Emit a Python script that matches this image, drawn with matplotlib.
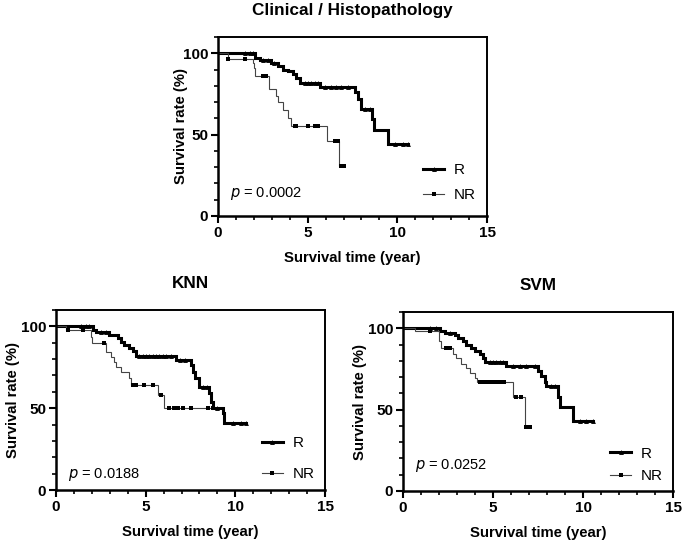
import numpy as np
import matplotlib
matplotlib.use('Agg')
import matplotlib.pyplot as plt
from matplotlib.ticker import MultipleLocator

plt.rcParams['font.family'] = ['Liberation Sans', 'DejaVu Sans']

# ----------------------------------------------------------------------------------- #
#             Kaplan-Meier curves (time in years, %)              #
# ----------------------------------------------------------------------------------- #

# Clinical / Histopathology
clin_R_t = [0, 2.04, 2.32, 2.97, 3.35, 3.62, 3.90, 4.18, 4.37, 4.55, 5.67, 7.62, 7.80, 8.00, 8.59, 8.70, 9.48]
clin_R_s = [100, 97.2, 96, 94, 92, 90, 89, 87, 85, 81.5, 79.5, 76, 72, 66, 59.6, 52.6, 44.3]
clin_R_cens = [1.49, 1.77, 1.95, 2.5, 2.8, 3.1, 4.83, 5.02, 5.2, 5.39, 5.58, 5.95, 6.32, 6.6, 6.88, 7.25,
               8.18, 8.46, 9.85, 10.3, 10.6]
clin_NR_t = [0, 0.57, 1.95, 2.0, 2.05, 2.83, 3.25, 3.35, 3.62, 3.90, 4.09, 6.10, 6.77]
clin_NR_s = [100, 96.5, 94, 91, 86, 78, 74, 70, 65, 60.5, 55, 46, 31]
clin_NR_cens = [0.57, 1.49, 2.5, 2.7, 4.28, 4.37, 5.02, 5.39, 5.58, 6.5, 6.7, 6.85, 7.0]

# KNN
knn_R_t = [0, 2.04, 2.23, 2.97, 3.44, 3.62, 3.81, 4.09, 4.31, 4.46, 6.69, 7.53, 7.66, 7.77, 7.99, 8.55, 8.64,
           8.74, 9.29, 9.39]
knn_R_s = [100, 97.8, 96.7, 94.7, 92.7, 90.6, 88.6, 86.6, 85, 82.1, 79.5, 76.4, 72.4, 68.3, 63.2, 59.1, 54,
           50, 47, 41]
knn_R_cens = [1.39, 1.67, 1.86, 2.5, 2.79, 4.65, 4.83, 5.02, 5.2, 5.39, 5.58, 5.76, 5.95, 6.13, 6.4, 6.9, 7.2,
              8.2, 8.4, 9.0, 9.85, 10.3, 10.6]
knn_NR_t = [0, 0.55, 1.95, 2.0, 2.79, 3.07, 3.25, 3.35, 3.62, 4.09, 4.18, 5.67, 6.04]
knn_NR_s = [100, 98, 93.5, 89.6, 84.5, 81.5, 78.5, 75.4, 72.4, 68.3, 64.2, 58, 50.3]
knn_NR_cens = [0.65, 1.49, 2.7, 4.28, 4.46, 4.93, 5.39, 5.85, 6.32, 6.6, 6.78, 7.06, 7.53, 8.46, 8.74]

# SVM
svm_R_t = [0, 2.04, 2.31, 2.87, 3.06, 3.33, 3.52, 3.80, 3.98, 4.26, 4.44, 4.54, 5.74, 7.50, 7.69, 7.87, 7.96,
           8.61, 8.70, 9.44]
svm_R_s = [100, 98.6, 97.2, 95.7, 94, 92, 90, 88, 86, 84.4, 81.9, 79.5, 76.8, 73.8, 70.8, 66.7, 64.6, 57.5,
           51.8, 43.3]
svm_R_cens = [1.48, 1.85, 2.6, 4.81, 5.0, 5.19, 5.37, 5.56, 6.11, 6.48, 6.85, 7.31, 8.24, 8.43, 9.81, 10.19,
              10.56]
svm_NR_t = [0, 0.65, 2.0, 2.1, 2.78, 2.96, 3.24, 3.52, 3.70, 3.98, 4.11, 6.11, 6.76]
svm_NR_s = [100, 98.6, 92, 88, 84, 81.5, 78.3, 75.8, 72.8, 69.7, 66.7, 58, 39.2]
svm_NR_cens = [1.48, 2.4, 2.6, 4.26, 4.44, 4.63, 4.81, 5.0, 5.19, 5.37, 5.6, 6.3, 6.57, 6.85, 7.04]

titles = ['Clinical / Histopathology', 'KNN', 'SVM']
pvalues = ['0.0002', '0.0188', '0.0252']


# ----------------------------------------------------------------------------------- #
#                                   plotting                                          #
# ----------------------------------------------------------------------------------- #

def km_curve(ax, t, s, cens, lw, marker, ms, color):
    t = np.asarray(t, dtype=float)
    s = np.asarray(s, dtype=float)
    cens = np.asarray(cens, dtype=float)
    tend = max(t[-1], cens.max())
    tt = np.append(t, tend)
    ss = np.append(s, s[-1])
    ax.step(tt, ss, where='post', color=color, lw=lw, solid_joinstyle='miter')
    idx = np.searchsorted(t, cens, side='right') - 1
    ax.plot(cens, s[idx], linestyle='None', marker=marker, ms=ms, color='black', mew=0)


def panel(ax, title, pval, ptext_y, R, NR, leg_anchor, leg_spacing, ylab_x):
    km_curve(ax, *R, lw=2.2, marker='^', ms=3.5, color='black')
    km_curve(ax, *NR, lw=0.8, marker='s', ms=3.0, color='#444444')

    ax.plot([], [], color='black', lw=2.2, marker='^', ms=3.5, mew=0, label='R')
    ax.plot([], [], color='#444444', lw=0.8, marker='s', ms=3.0, mew=0, mfc='black', label='NR')
    ax.legend(loc='center left', bbox_to_anchor=leg_anchor, frameon=False, fontsize=11,
              handlelength=1.4, handletextpad=0.6, labelspacing=leg_spacing,
              borderpad=0, borderaxespad=0)

    ax.set_xlim(0, 15)
    ax.set_ylim(0, 110)
    ax.xaxis.set_major_locator(MultipleLocator(5))
    ax.xaxis.set_minor_locator(MultipleLocator(1))
    ax.yaxis.set_major_locator(MultipleLocator(50))
    ax.yaxis.set_minor_locator(MultipleLocator(10))
    ax.tick_params(which='major', direction='out', length=5, width=1.5, labelsize=11, pad=2)
    ax.tick_params(which='minor', direction='out', length=3, width=1.2)
    for lab in ax.get_xticklabels() + ax.get_yticklabels():
        lab.set_fontweight('bold')
    for side in ['left', 'bottom']:
        ax.spines[side].set_linewidth(1.8)
    for side in ['top', 'right']:
        ax.spines[side].set_linewidth(1.4)

    ax.set_xlabel('Survival time (year)', fontsize=10.7, fontweight='bold', labelpad=8)
    ax.set_ylabel('Survival rate (%)', fontsize=10.7, fontweight='bold')
    ax.yaxis.set_label_coords(ylab_x, 0.5)
    ax.set_title(title, fontsize=12.3, fontweight='bold', pad=16)
    ax.text(0.045, ptext_y, '$p$ = ' + pval, transform=ax.transAxes, fontsize=10.5, va='center')


fig = plt.figure(figsize=(6.85, 5.41), dpi=100)

ax1 = fig.add_axes([218/685, 1 - 216/541, 269/685, 179/541])
ax2 = fig.add_axes([56/685, 1 - 490/541, 269/685, 180/541])
ax3 = fig.add_axes([403/685, 1 - 491/541, 270/685, 179/541])

panel(ax1, titles[0], pvalues[0], 0.128, (clin_R_t, clin_R_s, clin_R_cens),
      (clin_NR_t, clin_NR_s, clin_NR_cens), (0.762, 0.187), 0.7, -0.11)
panel(ax2, titles[1], pvalues[1], 0.087, (knn_R_t, knn_R_s, knn_R_cens),
      (knn_NR_t, knn_NR_s, knn_NR_cens), (0.765, 0.173), 1.1, -0.135)
panel(ax3, titles[2], pvalues[2], 0.14, (svm_R_t, svm_R_s, svm_R_cens),
      (svm_NR_t, svm_NR_s, svm_NR_cens), (0.767, 0.145), 0.55, -0.135)

plt.savefig('out.png', dpi=100)
plt.close()
